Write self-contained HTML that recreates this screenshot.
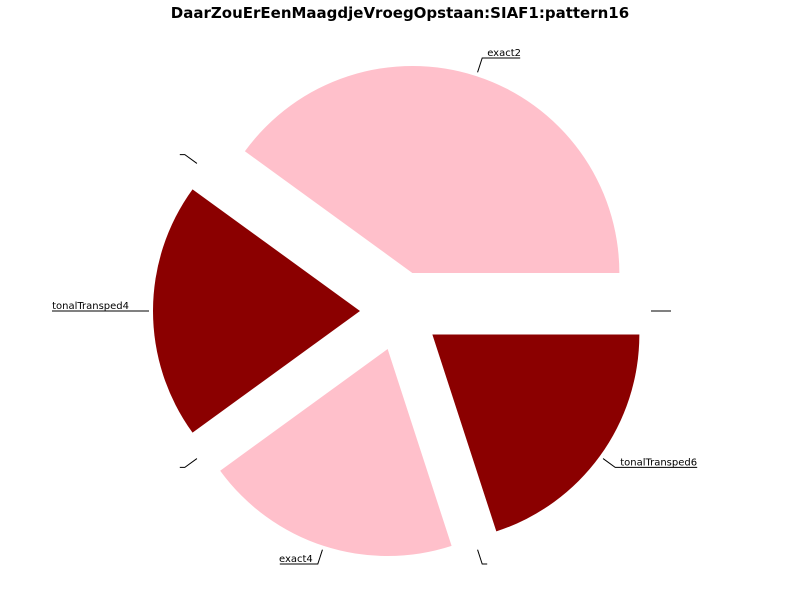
<!DOCTYPE html>
<html><head><meta charset="utf-8"><style>
html,body{margin:0;padding:0;background:#fff;}
svg{display:block;font-family:"DejaVu Sans","Liberation Sans",sans-serif;}
</style></head><body>
<svg id="chart" width="800" height="600" viewBox="0 0 800 600">
<text x="400" y="18" text-anchor="middle" font-size="15" font-weight="bold">DaarZouErEenMaagdjeVroegOpstaan:SIAF1:pattern16</text>
</svg>
<script>
const labels = ["exact2", "", "tonalTransped4", "", "exact4", "", "tonalTransped6", ""];
const values = [40, 0, 20, 0, 20, 0, 20, 0];
const colors = ["pink", "pink", "darkred", "darkred", "pink", "pink", "darkred", "darkred"];
const names = ["slice-exact2", "slice-empty-1", "slice-tonaltransped4", "slice-empty-2", "slice-exact4", "slice-empty-3", "slice-tonaltransped6", "slice-empty-4"];

const svg = document.getElementById('chart');
const NS = 'http://www.w3.org/2000/svg';
const cx = 400, cy = 311, R = 207, D = 40;
const total = values.reduce((a, b) => a + b, 0);
let acc = 0;
function pt(x, y, r, a) { return [x + r * Math.cos(a), y - r * Math.sin(a)]; }
values.forEach((v, i) => {
  const a0 = acc / total * 2 * Math.PI;
  acc += v;
  const a1 = acc / total * 2 * Math.PI;
  const mid = (a0 + a1) / 2;
  const [ox, oy] = pt(cx, cy, D, mid);
  if (v > 0) {
    const [x0, y0] = pt(ox, oy, R, a0);
    const [x1, y1] = pt(ox, oy, R, a1);
    const large = (a1 - a0) > Math.PI ? 1 : 0;
    const p = document.createElementNS(NS, 'path');
    p.setAttribute('d', `M${ox},${oy} L${x0},${y0} A${R},${R} 0 ${large} 0 ${x1},${y1} Z`);
    p.setAttribute('fill', colors[i]);
    
    
    svg.appendChild(p);
  }
  const [sx, sy] = pt(ox, oy, R + 4, mid);
  const [kx, ky] = pt(ox, oy, R + 19, mid);
  const right = Math.cos(mid) >= -1e-9;
  const tw = labels[i].length * 5.5;
  const ex = right ? kx + 5 + tw : kx - 5 - tw;
  const line = document.createElementNS(NS, 'polyline');
  line.setAttribute('points', `${sx},${sy} ${kx},${ky} ${ex},${ky}`);
  line.setAttribute('fill', 'none');
  line.setAttribute('stroke', '#000');
  line.setAttribute('stroke-width', '1');
  
  
  svg.appendChild(line);
  if (labels[i]) {
    const t = document.createElementNS(NS, 'text');
    t.setAttribute('x', right ? kx + 5 : kx - 5);
    t.setAttribute('y', ky - 2);
    t.setAttribute('font-size', '10');
    t.setAttribute('text-anchor', right ? 'start' : 'end');
    t.textContent = labels[i];
    
    
    svg.appendChild(t);
  }
});
</script>
</body></html>
